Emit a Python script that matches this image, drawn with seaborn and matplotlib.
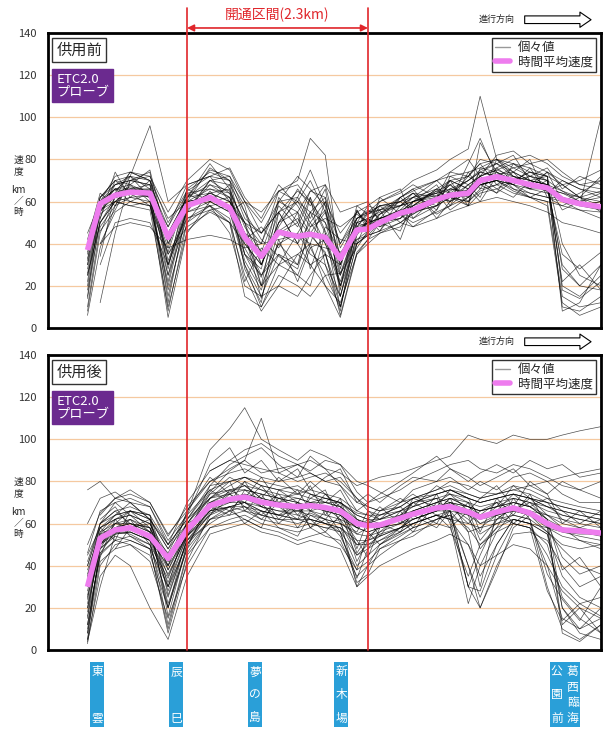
import numpy as np
import pandas as pd
import matplotlib
matplotlib.use("Agg")
import matplotlib.pyplot as plt
import matplotlib.transforms as mtrans
from matplotlib.lines import Line2D
from matplotlib.patches import Rectangle
import seaborn as sns

sns.set_style("white")
plt.rcParams['font.family'] = ['Noto Sans CJK JP', 'DejaVu Sans']

nan = np.nan

# distance along the route (km from left edge of chart)
km = [0.5, 0.66, 0.85, 1.04, 1.29, 1.52, 1.76, 2.05, 2.30, 2.49, 2.70, 2.92, 3.16, 3.32, 3.51, 3.70,
      3.91, 4.05, 4.20, 4.46, 4.62, 4.92, 5.09, 5.32, 5.47, 5.68, 5.89, 6.10, 6.32, 6.51, 6.73, 7.00]

# time-averaged speed (km/h)
mean_before = [37, 59, 63, 64.5, 64, 43, 58, 62, 57, 43, 34, 45.5, 43.5, 44.5, 43, 33,
               46.5, 47, 50, 54.5, 56, 61, 63, 64, 70, 71.8, 70, 68, 66.5, 61, 59, 57.5]
mean_after = [30, 53, 57, 58, 54, 43.5, 57, 68.5, 71.5, 72.6, 70.2, 68.8, 68, 68.5, 67.6, 66,
              60, 59, 59.3, 62.5, 64.5, 67.4, 68, 65.5, 63, 65.5, 67.4, 65, 60, 57, 56.5, 55.5]

# individual probe trips, before opening
before_trips = [
    [20, 55, 68, 70, 68, 30, 62, 68, 65, 50, 30, 55, 60, 50, 40, 20, 50, 52, 55, 58, 60, 65, 62, 68, 72, 75, 72, 70, 68, 65, 62, 60],
    [8, 45, 62, 65, 62, 15, 55, 70, 68, 35, 20, 40, 30, 55, 50, 25, 45, 50, 52, 56, 58, 62, 66, 65, 70, 73, 74, 70, 72, 20, 15, 25],
    [35, 60, 72, 74, 72, 50, 65, 72, 60, 45, 40, 60, 55, 45, 35, 15, 48, 55, 58, 60, 55, 58, 65, 70, 75, 78, 72, 68, 65, 68, 62, 55],
    [nan, 58, 66, 68, 75, 40, 60, 62, 58, 30, 15, 35, 25, 40, 60, 45, 55, 50, 48, 52, 58, 65, 68, 62, 68, 70, 68, 72, 70, 10, 8, 15],
    [25, 50, 60, 62, 63, 8, 50, 65, 55, 60, 50, 65, 68, 60, 45, 10, 40, 45, 52, 55, 60, 63, 60, 66, 72, 75, 78, 74, 70, 65, 60, 58],
    [40, 62, 70, 72, 70, 45, 62, 75, 72, 55, 35, 45, 50, 65, 62, 40, 55, 58, 56, 60, 62, 58, 70, 72, 68, 70, 66, 64, 62, 58, 56, 52],
    [nan, 40, 55, 60, 58, 25, 52, 58, 50, 25, 8, 20, 35, 30, 20, 5, 35, 42, 45, 50, 55, 60, 62, 60, 65, 68, 70, 66, 64, 62, 58, 60],
    [15, 58, 64, 67, 65, 35, 48, 55, 50, 40, 30, 50, 60, 70, 55, 35, 50, 48, 54, 62, 65, 70, 72, 74, 76, 80, 76, 72, 68, 30, 20, 18],
    [nan, nan, 65, 72, 96, 60, 68, 72, 70, 52, 45, 55, 40, 30, 35, 30, 52, 55, 60, 65, 70, 75, 80, 85, 110, 80, 72, 70, 68, 62, 60, 62],
    [30, 56, 60, 58, 60, 20, 58, 60, 55, 35, 25, 40, 45, 35, 30, 15, 42, 46, 50, 54, 50, 55, 58, 62, 68, 70, 65, 62, 60, 58, 62, 65],
    [10, 48, 58, 62, 60, 5, 45, 60, 62, 45, 20, 30, 25, 20, 45, 20, 40, 44, 46, 58, 62, 66, 64, 70, 74, 72, 76, 78, 74, 70, 66, 64],
    [45, 60, 68, 70, 72, 55, 70, 80, 75, 60, 55, 65, 70, 90, 82, 30, 52, 54, 58, 60, 64, 62, 60, 68, 72, 76, 80, 82, 78, 72, 68, 70],
    [nan, 30, 50, 52, 50, 30, 55, 58, 45, 20, 15, 20, 15, 25, 35, 10, 40, 44, 50, 55, 52, 58, 62, 60, 66, 68, 64, 62, 60, 15, 10, 12],
    [32, 62, 70, 68, 64, 48, 64, 66, 62, 40, 30, 50, 55, 65, 68, 55, 58, 54, 56, 58, 60, 64, 70, 66, 70, 74, 70, 74, 72, 68, 70, 75],
    [nan, nan, nan, nan, nan, nan, 60, 62, 58, 50, 40, 65, 60, 55, 40, 25, 48, 50, 52, 55, 60, 62, 68, 72, 80, 78, 74, 70, 65, 60, 58, 100],
    [25, 50, 62, 64, 62, 30, 55, 60, 55, 30, 10, 25, 20, 15, 25, 10, 45, 48, 52, 56, 54, 60, 62, 64, 68, 70, 68, 64, 62, 60, 56, 55],
    [38, 60, 66, 66, 65, 40, 58, 64, 60, 45, 35, 45, 40, 50, 60, 30, 50, 52, 54, 58, 62, 64, 66, 70, 74, 72, 70, 72, 70, 28, 20, 30],
    [28, 55, 64, 66, 66, 42, 60, 66, 64, 50, 45, 55, 65, 60, 50, 35, 47, 50, 52, 54, 58, 66, 60, 64, 70, 72, 68, 66, 66, 64, 62, 58],
    [nan, 56, 62, 60, 58, 35, 52, 56, 50, 15, 10, 30, 35, 40, 20, 12, 35, 40, 45, 48, 55, 58, 62, 58, 64, 66, 70, 68, 66, 62, 58, 56],
    [18, 50, 60, 66, 68, 25, 62, 70, 72, 60, 45, 60, 62, 75, 58, 40, 52, 55, 56, 62, 66, 70, 74, 72, 78, 80, 78, 76, 72, 40, 25, 20],
    [nan, 40, 48, 50, 48, 38, 42, 44, 42, 38, 40, 42, 44, 40, 38, 36, 42, 44, 46, 50, 48, 52, 55, 58, 60, 62, 60, 58, 55, 50, 48, 45],
    [33, 58, 66, 64, 66, 45, 62, 64, 60, 42, 25, 35, 30, 45, 55, 20, 46, 48, 50, 52, 56, 60, 64, 62, 68, 70, 72, 68, 66, 64, 60, 58],
    [nan, 12, 45, 70, 74, 28, 66, 74, 70, 58, 30, 48, 62, 52, 66, 28, 58, 60, 50, 46, 60, 68, 58, 74, 66, 76, 70, 66, 74, 60, 64, 70],
    [6, 38, 58, 72, 66, 12, 58, 64, 66, 28, 12, 55, 40, 62, 30, 8, 50, 58, 62, 54, 48, 56, 72, 68, 62, 80, 74, 66, 70, 8, 12, 30],
    [nan, 52, 74, 62, 70, 52, 60, 76, 70, 42, 48, 38, 55, 28, 48, 42, 40, 52, 46, 62, 66, 52, 60, 78, 90, 72, 68, 76, 64, 70, 66, 62],
    [42, 64, 58, 68, 60, 36, 64, 58, 60, 50, 20, 60, 72, 66, 58, 18, 56, 48, 58, 50, 54, 62, 68, 60, 72, 66, 62, 70, 68, 22, 30, 18],
    [nan, 34, 64, 74, 70, 44, 56, 68, 62, 35, 28, 62, 50, 38, 25, 26, 38, 46, 54, 60, 64, 56, 66, 64, 70, 64, 78, 72, 76, 66, 72, 68],
    [22, 60, 66, 60, 64, 18, 50, 58, 52, 22, 38, 30, 45, 55, 62, 15, 44, 52, 48, 56, 62, 70, 64, 58, 76, 74, 66, 62, 58, 12, 6, 10],
    [nan, 46, 56, 70, 68, 48, 68, 72, 76, 62, 52, 68, 58, 48, 52, 48, 54, 50, 60, 64, 68, 62, 74, 80, 72, 82, 84, 78, 80, 74, 68, 66],
    [14, 52, 70, 64, 58, 22, 60, 62, 56, 45, 14, 42, 22, 38, 42, 22, 46, 50, 56, 42, 58, 66, 70, 66, 60, 72, 68, 62, 66, 35, 28, 36],
    [36, 58, 62, 74, 70, 32, 56, 70, 64, 38, 24, 50, 66, 58, 68, 38, 52, 56, 52, 62, 56, 60, 62, 72, 78, 68, 74, 80, 62, 62, 58, 60],
    [nan, nan, 60, 66, 62, 38, 66, 60, 68, 55, 42, 34, 28, 48, 56, 26, 48, 54, 58, 58, 64, 54, 58, 66, 74, 78, 82, 70, 68, 56, 60, 64],
    [26, 54, 60, 58, 56, 10, 46, 56, 58, 32, 18, 46, 52, 44, 36, 6, 36, 42, 50, 52, 60, 64, 56, 62, 68, 64, 70, 74, 72, 18, 14, 22],
    [30, 62, 68, 72, 62, 42, 62, 78, 66, 48, 36, 58, 48, 62, 46, 32, 56, 46, 62, 66, 52, 62, 70, 58, 88, 74, 70, 68, 74, 68, 62, 72],
]

# individual probe trips, after opening
after_trips = [
    [5, 50, 60, 62, 58, 35, 55, 70, 75, 78, 72, 70, 72, 70, 68, 65, 55, 58, 60, 62, 66, 70, 72, 68, 64, 66, 70, 68, 62, 20, 10, 15],
    [15, 55, 62, 64, 60, 40, 60, 72, 74, 76, 74, 72, 70, 68, 70, 68, 62, 60, 58, 60, 64, 68, 66, 30, 45, 62, 68, 66, 64, 60, 58, 56],
    [76, 80, 72, 70, 68, 50, 70, 85, 90, 95, 98, 92, 88, 85, 90, 88, 75, 70, 72, 76, 80, 85, 88, 90, 86, 84, 88, 86, 82, 78, 76, 80],
    [25, 48, 55, 56, 52, 30, 50, 65, 68, 70, 66, 64, 62, 65, 62, 60, 45, 50, 52, 58, 60, 64, 62, 60, 58, 60, 62, 60, 55, 35, 25, 20],
    [40, 60, 66, 68, 64, 50, 62, 78, 80, 82, 78, 76, 78, 74, 72, 70, 65, 64, 62, 66, 70, 74, 76, 72, 70, 72, 74, 72, 68, 66, 64, 62],
    [10, 45, 52, 54, 50, 20, 48, 62, 66, 68, 64, 62, 60, 62, 60, 58, 40, 45, 50, 55, 58, 62, 64, 40, 25, 45, 60, 58, 50, 25, 15, 8],
    [60, 72, 75, 70, 62, 48, 65, 95, 105, 115, 100, 95, 90, 95, 92, 88, 80, 78, 75, 70, 72, 76, 80, 78, 75, 74, 76, 78, 80, 82, 84, 86],
    [30, 52, 56, 58, 55, 45, 58, 70, 72, 72, 70, 68, 66, 68, 66, 64, 58, 56, 58, 62, 64, 68, 70, 66, 60, 64, 66, 64, 58, 56, 55, 55],
    [3, 40, 50, 52, 48, 10, 45, 58, 62, 64, 60, 58, 56, 58, 54, 52, 35, 40, 45, 52, 56, 60, 58, 35, 50, 58, 62, 60, 40, 15, 10, 20],
    [50, 65, 72, 74, 70, 55, 66, 80, 84, 86, 82, 80, 82, 84, 80, 78, 70, 68, 66, 68, 72, 76, 78, 74, 72, 74, 78, 76, 72, 70, 68, 66],
    [20, 50, 56, 55, 50, 25, 52, 66, 70, 72, 68, 66, 64, 62, 60, 62, 50, 52, 55, 58, 62, 66, 68, 62, 55, 60, 64, 62, 30, 10, 5, 12],
    [35, 55, 58, 60, 58, 42, 56, 68, 72, 74, 72, 70, 68, 70, 70, 68, 60, 58, 60, 62, 66, 70, 72, 68, 66, 68, 70, 68, 64, 62, 60, 58],
    [45, 58, 62, 64, 60, 45, 60, 75, 85, 90, 110, 84, 80, 82, 84, 80, 72, 66, 64, 68, 72, 74, 76, 72, 70, 72, 74, 72, 70, 68, 66, 64],
    [12, 46, 52, 50, 42, 15, 40, 58, 60, 62, 58, 56, 52, 54, 56, 50, 38, 42, 48, 54, 58, 62, 64, 58, 50, 56, 60, 58, 45, 30, 22, 25],
    [28, 54, 60, 60, 56, 38, 55, 68, 70, 70, 68, 66, 66, 64, 62, 60, 55, 54, 56, 60, 62, 66, 68, 64, 62, 64, 66, 64, 60, 56, 54, 52],
    [nan, 58, 64, 66, 62, 48, 60, 74, 76, 78, 76, 74, 72, 70, 72, 70, 62, 60, 62, 66, 68, 72, 74, 70, 68, 70, 72, 70, 66, 64, 62, 60],
    [8, 42, 48, 50, 45, 20, 50, 62, 64, 66, 62, 60, 58, 60, 58, 56, 45, 48, 52, 56, 60, 64, 62, 30, 20, 40, 55, 56, 52, 40, 30, 35],
    [38, 56, 60, 58, 54, 32, 54, 70, 74, 80, 76, 72, 70, 68, 66, 64, 58, 56, 58, 60, 64, 68, 70, 68, 66, 68, 70, 68, 62, 58, 56, 54],
    [22, 50, 55, 56, 52, 40, 54, 66, 68, 66, 64, 62, 62, 60, 58, 58, 50, 50, 54, 58, 60, 64, 66, 64, 60, 62, 64, 62, 56, 50, 48, 50],
    [nan, nan, nan, nan, nan, nan, nan, 85, 90, 88, 86, 84, 88, 90, 86, 84, 78, 80, 82, 84, 86, 90, 92, 102, 100, 98, 102, 100, 100, 102, 104, 106],
    [18, 50, 58, 60, 56, 28, 52, 64, 68, 70, 66, 64, 66, 66, 64, 62, 30, 40, 50, 56, 60, 64, 62, 50, 35, 50, 62, 60, 55, 20, 8, 5],
    [42, 60, 64, 66, 62, 50, 62, 72, 76, 76, 74, 72, 74, 72, 70, 70, 64, 62, 62, 64, 68, 72, 70, 68, 66, 68, 72, 70, 68, 66, 64, 62],
    [5, 35, 45, 40, 20, 5, 35, 55, 58, 60, 56, 54, 50, 52, 50, 48, 30, 35, 40, 45, 48, 52, 55, 50, 40, 45, 50, 48, 40, 28, 20, 15],
    [32, 54, 58, 58, 54, 44, 58, 72, 78, 82, 80, 78, 76, 74, 72, 70, 64, 62, 60, 64, 66, 70, 74, 72, 70, 72, 74, 72, 68, 64, 62, 60],
    [nan, 60, 70, 72, 68, 52, 64, 76, 80, 82, 78, 76, 74, 76, 74, 72, 66, 64, 64, 66, 70, 74, 76, 74, 72, 74, 76, 74, 70, 68, 66, 64],
    [26, 52, 56, 56, 52, 36, 54, 66, 68, 68, 66, 64, 62, 62, 60, 58, 52, 52, 54, 58, 62, 66, 66, 30, 28, 50, 62, 60, 58, 54, 52, 50],
    [4, 30, 55, 62, 56, 22, 48, 72, 80, 66, 74, 62, 70, 78, 64, 72, 48, 62, 54, 66, 58, 74, 62, 70, 56, 72, 64, 74, 58, 12, 20, 8],
    [nan, 62, 68, 58, 62, 30, 62, 76, 70, 80, 68, 74, 64, 72, 76, 60, 56, 66, 62, 70, 74, 66, 72, 56, 30, 66, 74, 68, 72, 66, 60, 66],
    [16, 44, 62, 54, 48, 8, 42, 64, 76, 72, 82, 70, 76, 66, 74, 68, 42, 52, 60, 56, 66, 60, 70, 64, 48, 58, 72, 62, 36, 24, 14, 30],
    [36, 58, 52, 66, 58, 40, 66, 82, 74, 70, 78, 68, 62, 74, 70, 76, 62, 58, 66, 72, 68, 78, 74, 66, 72, 78, 68, 80, 74, 60, 66, 58],
    [nan, 48, 60, 66, 64, 26, 52, 60, 66, 62, 58, 76, 70, 58, 66, 56, 34, 48, 56, 64, 70, 72, 60, 22, 40, 56, 66, 70, 62, 38, 44, 30],
    [46, 66, 70, 64, 56, 46, 64, 88, 96, 84, 90, 80, 86, 76, 82, 86, 70, 74, 70, 78, 82, 80, 86, 82, 78, 82, 86, 78, 74, 80, 76, 72],
    [24, 56, 64, 70, 62, 16, 50, 68, 64, 76, 70, 60, 68, 62, 56, 64, 52, 44, 58, 62, 56, 70, 68, 60, 66, 70, 60, 66, 60, 8, 4, 12],
    [8, 50, 58, 62, 50, 34, 56, 74, 82, 78, 72, 82, 74, 80, 74, 66, 58, 62, 68, 60, 72, 68, 76, 72, 62, 68, 78, 72, 64, 58, 52, 48],
    [nan, nan, 48, 58, 60, 42, 60, 66, 74, 68, 62, 70, 58, 66, 62, 54, 38, 56, 50, 58, 64, 58, 66, 40, 20, 38, 58, 64, 56, 48, 40, 36],
    [34, 60, 66, 60, 58, 20, 54, 78, 88, 92, 96, 88, 82, 92, 86, 78, 66, 70, 74, 80, 84, 92, 86, 80, 84, 88, 84, 90, 86, 88, 82, 84],
    [12, 46, 56, 58, 52, 12, 46, 62, 68, 60, 66, 58, 54, 64, 60, 56, 32, 36, 48, 52, 54, 62, 66, 56, 58, 64, 60, 58, 28, 14, 22, 16],
    [40, 58, 62, 66, 64, 38, 58, 70, 66, 74, 68, 64, 70, 66, 68, 62, 58, 60, 64, 68, 62, 66, 72, 70, 64, 70, 66, 72, 70, 62, 58, 62],
    [20, 48, 54, 52, 48, 30, 54, 64, 72, 70, 64, 72, 68, 58, 62, 70, 46, 54, 58, 62, 70, 64, 58, 66, 52, 62, 68, 66, 60, 44, 36, 40],
    [nan, 64, 72, 76, 70, 54, 68, 80, 86, 90, 84, 86, 88, 84, 80, 82, 72, 68, 66, 70, 76, 80, 82, 76, 80, 76, 82, 84, 80, 74, 70, 70],
]

panel_titles = ['供用前', '供用後']
stations = [['東雲'], ['辰巳'], ['夢の島'], ['新木場'], ['葛西臨海', '公園前']]
station_km = [0.62, 1.62, 2.62, 3.71, 6.54]
open_km = [1.76, 4.05]
yticks = [0, 20, 40, 60, 80, 100, 120, 140]

PINK = '#ee7cee'
RED = '#e0262b'
GRID = '#f5c9a0'
PURPLE = '#6b2a8f'
BLUE = '#2a9fd8'


def to_long(trips):
    rows = []
    for i, tr in enumerate(trips):
        for x, v in zip(km, tr):
            rows.append((i, x, v))
    return pd.DataFrame(rows, columns=['trip', 'km', 'speed']).dropna()


fig = plt.figure(figsize=(6.06, 7.29), dpi=100)
ax1 = fig.add_axes([48 / 606, 1 - 328 / 729, 553 / 606, 295 / 729])
ax2 = fig.add_axes([48 / 606, 1 - 650 / 729, 553 / 606, 295 / 729])

for ax, trips, mean, title in [(ax1, before_trips, mean_before, panel_titles[0]),
                               (ax2, after_trips, mean_after, panel_titles[1])]:
    for y in yticks[1:-1]:
        ax.axhline(y, color=GRID, lw=0.9, zorder=0)
    sns.lineplot(data=to_long(trips), x='km', y='speed', units='trip', estimator=None,
                 color='black', lw=0.5, alpha=0.7, ax=ax, legend=False)
    sns.lineplot(x=km, y=mean, color=PINK, lw=4, ax=ax, legend=False, zorder=5,
                 solid_joinstyle='round', solid_capstyle='butt')
    ax.set_xlim(0, 7.0)
    ax.set_ylim(0, 140)
    ax.set_xticks([])
    ax.set_yticks(yticks)
    ax.tick_params(axis='y', labelsize=8, length=0, pad=8, labelcolor='#333333')
    ax.set_xlabel('')
    ax.set_ylabel('')
    for s in ax.spines.values():
        s.set_linewidth(2)
        s.set_color('black')

    ax.text(0.015, 0.942, title, transform=ax.transAxes, fontsize=11, va='center', ha='left',
            bbox=dict(boxstyle='square,pad=0.25', fc='white', ec='#333333', lw=1), zorder=10)
    ax.text(0.015, 0.822, 'ETC2.0\nプローブ', transform=ax.transAxes, fontsize=9.5, va='center',
            ha='left', color='white', linespacing=1.0,
            bbox=dict(boxstyle='square,pad=0.3', fc=PURPLE, ec=PURPLE), zorder=10)

    handles = [Line2D([], [], color='#999999', lw=1), Line2D([], [], color=PINK, lw=4)]
    leg = ax.legend(handles, ['個々値', '時間平均速度'], loc='upper right', fontsize=9,
                    frameon=True, fancybox=False, borderpad=0.25, handlelength=1.2,
                    handletextpad=0.6, labelspacing=0.1, borderaxespad=0.4)
    leg.get_frame().set_edgecolor('black')
    leg.get_frame().set_linewidth(1)
    leg.set_zorder(10)

    ax.text(-0.054, 0.55, '速\n度', transform=ax.transAxes, fontsize=7, ha='center',
            va='center', linespacing=1.1)
    ax.text(-0.054, 0.43, 'km\n／\n時', transform=ax.transAxes, fontsize=7, ha='center',
            va='center', linespacing=1.1)

    ax.text(0.812, 1.045, '進行方向', transform=ax.transAxes, fontsize=6.5, ha='center', va='center')
    ax.annotate('', xy=(0.982, 1.045), xytext=(0.862, 1.045), xycoords='axes fraction',
                textcoords='axes fraction', annotation_clip=False,
                arrowprops=dict(arrowstyle='simple,head_length=0.8,head_width=1.1,tail_width=0.55',
                                fc='white', ec='black', lw=0.8, shrinkA=0, shrinkB=0))

# red boundary lines of the opened section
tr = mtrans.blended_transform_factory(ax1.transData, fig.transFigure)
for k in open_km:
    fig.add_artist(Line2D([k, k], [1 - 650 / 729, 1 - 8 / 729], transform=tr, color=RED, lw=1.2))
ax1.annotate('', xy=(open_km[1], 1.017), xytext=(open_km[0], 1.017),
             xycoords=('data', 'axes fraction'), annotation_clip=False,
             arrowprops=dict(arrowstyle='<|-|>', color=RED, lw=1.2, shrinkA=0, shrinkB=0,
                             mutation_scale=10))
ax1.text(sum(open_km) / 2, 1.06, '開通区間(2.3km)', transform=mtrans.blended_transform_factory(
    ax1.transData, ax1.transAxes), color=RED, fontsize=10, ha='center', va='center')

# station labels
st = mtrans.blended_transform_factory(ax2.transData, ax2.transAxes)
top, bot = -0.041, -0.261
col_w = 0.18
for cols, k in zip(stations, station_km):
    w = col_w * len(cols) + 0.02 * (len(cols) - 1)
    ax2.add_patch(Rectangle((k - w / 2, bot), w, top - bot, transform=st, fc=BLUE, ec='none',
                            clip_on=False))
    for j, col in enumerate(cols):
        cx = k + (len(cols) - 1) / 2 * (col_w + 0.02) - j * (col_w + 0.02)
        ys = np.linspace(top - 0.033, bot + 0.03, len(col)) if len(col) > 1 else [top - 0.033]
        for ch, yy in zip(col, ys):
            ax2.text(cx, yy, ch, transform=st, color='white', fontsize=8.5, ha='center',
                     va='center')

fig.savefig('out.png', dpi=100)
